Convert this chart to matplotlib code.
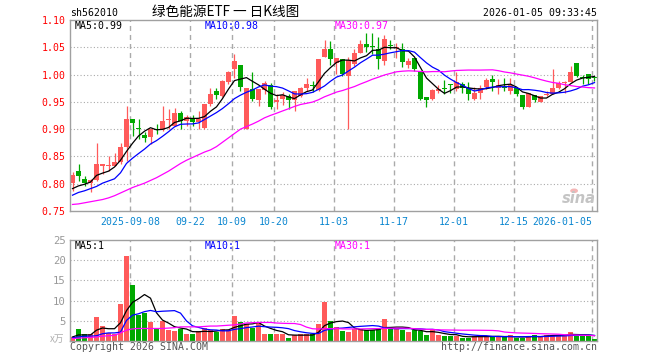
import numpy as np
import pandas as pd
import matplotlib
matplotlib.use("Agg")
import matplotlib.pyplot as plt
from matplotlib.patches import Ellipse

# ---------------- data ----------------
holidays = ["2025-10-01", "2025-10-02", "2025-10-03", "2025-10-06", "2025-10-07",
            "2025-10-08", "2026-01-01", "2026-01-02"]
start_date = "2025-08-25"
end_date = "2026-01-05"

opens = [0.801, 0.823, 0.809, 0.801, 0.807, 0.833, 0.832, 0.833, 0.840, 0.868,
         0.919, 0.901, 0.889, 0.885, 0.901, 0.900, 0.916, 0.906, 0.930, 0.915,
         0.921, 0.913, 0.903, 0.946, 0.970, 0.961, 0.986, 1.011, 1.018, 0.901,
         0.973, 0.954, 0.972, 0.980, 0.949, 0.955, 0.961, 0.954, 0.961, 0.975,
         0.980, 0.972, 1.032, 1.046, 1.022, 1.029, 0.998, 1.019, 1.039, 1.056,
         1.051, 1.046, 1.024, 1.053, 1.048, 1.046, 1.017, 1.031, 1.006, 0.958,
         0.955, 0.970, 0.974, 0.981, 0.973, 0.983, 0.975, 0.956, 0.967, 0.978,
         0.992, 0.976, 0.976, 0.970, 0.975, 0.962, 0.941, 0.962, 0.950, 0.963,
         0.964, 0.975, 0.985, 0.987, 1.021, 0.995, 1.001, 0.995]
highs = [0.822, 0.836, 0.814, 0.808, 0.875, 0.837, 0.851, 0.856, 0.875, 0.942,
         0.919, 0.918, 0.894, 0.901, 0.910, 0.942, 0.937, 0.938, 0.933, 0.926,
         0.926, 0.934, 0.946, 0.976, 0.975, 0.990, 1.007, 1.037, 1.018, 0.976,
         1.004, 0.973, 0.989, 0.984, 0.964, 0.968, 0.965, 0.970, 0.978, 0.993,
         0.989, 1.028, 1.064, 1.062, 1.030, 1.029, 1.032, 1.046, 1.064, 1.077,
         1.076, 1.069, 1.072, 1.064, 1.058, 1.057, 1.031, 1.031, 1.006, 0.958,
         0.973, 0.980, 0.990, 0.982, 1.004, 0.986, 0.987, 0.977, 0.980, 0.993,
         0.999, 0.992, 0.993, 0.993, 0.977, 0.962, 0.967, 0.962, 0.961, 0.970,
         1.010, 0.989, 0.988, 1.015, 1.021, 0.999, 1.001, 0.998]
lows = [0.787, 0.805, 0.796, 0.784, 0.805, 0.817, 0.823, 0.833, 0.836, 0.842,
        0.888, 0.882, 0.877, 0.872, 0.891, 0.897, 0.900, 0.905, 0.900, 0.906,
        0.906, 0.900, 0.900, 0.943, 0.955, 0.958, 0.983, 0.994, 0.970, 0.900,
        0.952, 0.943, 0.964, 0.937, 0.937, 0.944, 0.937, 0.934, 0.958, 0.970,
        0.968, 0.970, 1.032, 1.017, 1.001, 0.998, 0.900, 1.016, 1.039, 1.041,
        1.037, 1.011, 1.017, 1.046, 1.030, 1.014, 1.012, 1.006, 0.954, 0.940,
        0.954, 0.967, 0.964, 0.967, 0.970, 0.967, 0.954, 0.953, 0.956, 0.973,
        0.970, 0.965, 0.970, 0.964, 0.961, 0.937, 0.941, 0.949, 0.949, 0.961,
        0.964, 0.973, 0.967, 0.986, 0.995, 0.983, 0.983, 0.988]
closes = [0.816, 0.815, 0.802, 0.806, 0.837, 0.837, 0.833, 0.840, 0.868, 0.918,
          0.911, 0.900, 0.884, 0.900, 0.899, 0.915, 0.917, 0.930, 0.915, 0.923,
          0.913, 0.918, 0.946, 0.964, 0.963, 0.989, 1.005, 1.024, 0.978, 0.976,
          0.955, 0.973, 0.984, 0.941, 0.954, 0.963, 0.953, 0.969, 0.975, 0.983,
          0.979, 1.028, 1.046, 1.028, 1.030, 1.001, 1.027, 1.039, 1.056, 1.050,
          1.050, 1.029, 1.065, 1.052, 1.050, 1.023, 1.025, 1.011, 0.955, 0.954,
          0.972, 0.974, 0.973, 0.980, 0.986, 0.975, 0.964, 0.966, 0.976, 0.990,
          0.986, 0.980, 0.975, 0.981, 0.964, 0.941, 0.966, 0.954, 0.960, 0.964,
          0.975, 0.985, 0.986, 1.005, 0.998, 0.994, 0.992, 0.994]
volumes = [1.0, 2.9, 1.7, 1.8, 6.0, 3.7, 2.0, 1.7, 9.2, 21.0,
           13.9, 6.4, 7.0, 4.7, 2.9, 4.9, 2.7, 2.5, 3.0, 1.7,
           1.7, 2.5, 3.1, 2.7, 2.3, 2.9, 2.8, 6.2, 4.7, 4.2,
           3.3, 4.5, 1.8, 1.8, 1.7, 1.7, 0.7, 1.4, 1.7, 1.8,
           1.7, 4.2, 9.6, 5.0, 3.5, 2.4, 2.3, 2.9, 2.9, 2.7,
           2.7, 2.9, 5.4, 3.1, 3.1, 2.7, 2.3, 2.7, 2.4, 1.4,
           2.8, 1.4, 1.2, 1.2, 1.2, 0.8, 0.8, 1.3, 1.3, 1.2,
           1.0, 1.0, 1.0, 1.4, 0.8, 0.8, 1.2, 1.4, 1.2, 1.5,
           1.5, 1.5, 1.4, 2.3, 1.3, 1.3, 1.3, 0.5]

# moving-average values before enough history is visible
ma5_head = [0.791, 0.796, 0.799, 0.803]
ma10_head = [0.779, 0.784, 0.787, 0.791, 0.795, 0.801, 0.805, 0.809, 0.820]
ma30_head = [0.762, 0.763, 0.765, 0.767, 0.769, 0.771, 0.774, 0.778, 0.783, 0.788,
             0.793, 0.797, 0.801, 0.806, 0.811, 0.817, 0.823, 0.830, 0.837, 0.843,
             0.848, 0.853, 0.858, 0.862, 0.868, 0.876, 0.884, 0.892, 0.900]
vol_ma5_head = [1.0, 1.5, 1.5, 1.5]
vol_ma10_head = [0.8, 1.0, 1.2, 1.2, 1.3, 1.8, 2.0, 2.0, 2.2]
vol_ma30_head = [0.6, 0.7, 0.8, 0.9, 1.0, 1.2, 1.3, 1.4, 2.0, 2.7,
                 3.0, 3.1, 3.1, 3.1, 3.1, 3.1, 3.2, 3.3, 3.5, 3.5,
                 3.5, 3.5, 3.6, 3.7, 3.7, 3.8, 3.9, 4.0, 4.2]

tick_dates = ["2025-09-08", "2025-09-22", "2025-10-09", "2025-10-20", "2025-11-03",
              "2025-11-17", "2025-12-01", "2025-12-15", "2026-01-05"]
tick_labels = ["2025-09-08", "09-22", "10-09", "10-20", "11-03",
               "11-17", "12-01", "12-15", "2026-01-05"]
price_ticks = [0.75, 0.80, 0.85, 0.90, 0.95, 1.00, 1.05, 1.10]
vol_ticks = [5, 10, 15, 20, 25]

code = "sh562010"
title = "绿色能源ETF 一 日K线图"
timestamp = "2026-01-05 09:33:45"

# ---------------- derived ----------------
dates = pd.bdate_range(start_date, end_date, freq="C", holidays=holidays)
n = len(dates)
x = np.arange(n)
o = np.array(opens); h = np.array(highs); l = np.array(lows); c = np.array(closes)
v = np.array(volumes)


def ma(series, win, head):
    s = pd.Series(series).rolling(win).mean().to_numpy()
    s[:len(head)] = head
    return s


ma5 = ma(c, 5, ma5_head)
ma10 = ma(c, 10, ma10_head)
ma30 = ma(c, 30, ma30_head)
vma5 = ma(v, 5, vol_ma5_head)
vma10 = ma(v, 10, vol_ma10_head)
vma30 = ma(v, 30, vol_ma30_head)

up = c >= o
RED = "#ff5a5a"
GREEN = "#00a800"
cols = np.where(up, RED, GREEN)

# ---------------- layout ----------------
W, H = 660, 360
fig = plt.figure(figsize=(W / 100, H / 100), dpi=100)
MONO = "DejaVu Sans Mono"
FS = 7.1


def ax_rect(x0, y0, x1, y1):
    return [x0 / W, 1 - y1 / H, (x1 - x0) / W, (y1 - y0) / H]


def px(xp, yp):
    return xp / W, 1 - yp / H


def trunc2(val):
    return f"{np.floor(val * 100) / 100:.2f}"


ax = fig.add_axes(ax_rect(70, 20, 597, 211))
axv = fig.add_axes(ax_rect(70, 240, 597, 341))

half = 2.5 / 6.0
tick_pos = [dates.get_loc(pd.Timestamp(d)) - half for d in tick_dates]

for a in (ax, axv):
    a.set_xlim(-half, (597 - 72.5) / 6)
    for s in a.spines.values():
        s.set_color("#a0a0a0")
        s.set_linewidth(1.0)
    a.tick_params(length=0)
    for tp in tick_pos:
        a.axvline(tp, color="#aaaaaa", lw=1.0, ls=(0, (3.6, 2.9)), zorder=0)

# price panel
ax.set_ylim(0.75, 1.10)
for yv in price_ticks[1:-1]:
    ax.axhline(yv, color="#aaaaaa", lw=0.8, ls=(0, (1, 2)), zorder=0)

# sina watermark (behind the data)
ax.add_patch(Ellipse((83.6, 0.787), 1.3, 0.0085, color="#f4b6b6", lw=0, zorder=1))
ax.text(87.3, 0.772, "sina", family="DejaVu Sans", fontsize=10.5,
        fontweight="bold", style="italic", color="#c4c4c4", ha="right",
        va="center", zorder=1)

ax.vlines(x, l, h, colors=cols, lw=0.9, zorder=2)
body_h = np.maximum(np.abs(c - o), 0.0019)
ax.bar(x, body_h, bottom=np.minimum(o, c), width=5 / 6, color=cols, lw=0, zorder=2)
ax.plot(x, ma5, color="black", lw=0.9, zorder=3)
ax.plot(x, ma10, color="#0000ff", lw=0.9, zorder=3)
ax.plot(x, ma30, color="#ff00ff", lw=0.9, zorder=3)
ax.set_yticks(price_ticks)
ax.set_yticklabels([f"{t:.2f}" for t in price_ticks], color="#ff0000",
                   family=MONO, fontsize=FS)
ax.tick_params(axis="y", pad=3)
ax.set_xticks(tick_pos)
ax.set_xticklabels(tick_labels, color="#0a86d0", family=MONO, fontsize=FS)
ax.tick_params(axis="x", pad=4)
ax.get_xticklabels()[-1].set_ha("right")

# volume panel
axv.set_ylim(0, 25)
for yv in vol_ticks[:-1]:
    axv.axhline(yv, color="#aaaaaa", lw=0.8, ls=(0, (1, 2)), zorder=0)
axv.bar(x, v, width=5 / 6, color=cols, lw=0, zorder=2)
axv.plot(x, vma5, color="black", lw=0.9, zorder=3)
axv.plot(x, vma10, color="#0000ff", lw=0.9, zorder=3)
axv.plot(x, vma30, color="#ff00ff", lw=0.9, zorder=3)
axv.set_yticks(vol_ticks)
axv.set_yticklabels([str(t) for t in vol_ticks], color="#999999",
                    family=MONO, fontsize=FS + 0.6)
axv.tick_params(axis="y", pad=3)
axv.set_xticks([])

# texts
fig.text(*px(70, 13), code, family=MONO, fontsize=FS, ha="left", va="center")
fig.text(*px(152, 12), title, family=["Noto Sans CJK SC", "DejaVu Sans"],
         fontsize=9.8, ha="left", va="center")
fig.text(*px(597, 13), timestamp, family=MONO, fontsize=FS, ha="right", va="center")

fig.text(*px(75, 26), f"MA5:{trunc2(ma5[-1])}", family=MONO, fontsize=FS,
         color="black", ha="left", va="center")
fig.text(*px(205, 26), f"MA10:{trunc2(ma10[-1])}", family=MONO, fontsize=FS,
         color="#0000ff", ha="left", va="center")
fig.text(*px(335, 26), f"MA30:{trunc2(ma30[-1])}", family=MONO, fontsize=FS,
         color="#ff00ff", ha="left", va="center")

fig.text(*px(75, 246), f"MA5:{vma5[-1]:.0f}", family=MONO, fontsize=FS,
         color="black", ha="left", va="center")
fig.text(*px(205, 246), f"MA10:{vma10[-1]:.0f}", family=MONO, fontsize=FS,
         color="#0000ff", ha="left", va="center")
fig.text(*px(335, 246), f"MA30:{vma30[-1]:.0f}", family=MONO, fontsize=FS,
         color="#ff00ff", ha="left", va="center")

fig.text(*px(64, 339), "x万", family=["Noto Sans CJK SC", "DejaVu Sans"],
         fontsize=7, color="#b0b0b0", ha="right", va="center")
fig.text(*px(70, 347), "Copyright 2026 SINA.COM", family=MONO, fontsize=FS,
         color="#555555", ha="left", va="center")
fig.text(*px(597, 347), "http://finance.sina.com.cn", family=MONO, fontsize=FS,
         color="#555555", ha="right", va="center")

fig.savefig("out.png", dpi=100)
